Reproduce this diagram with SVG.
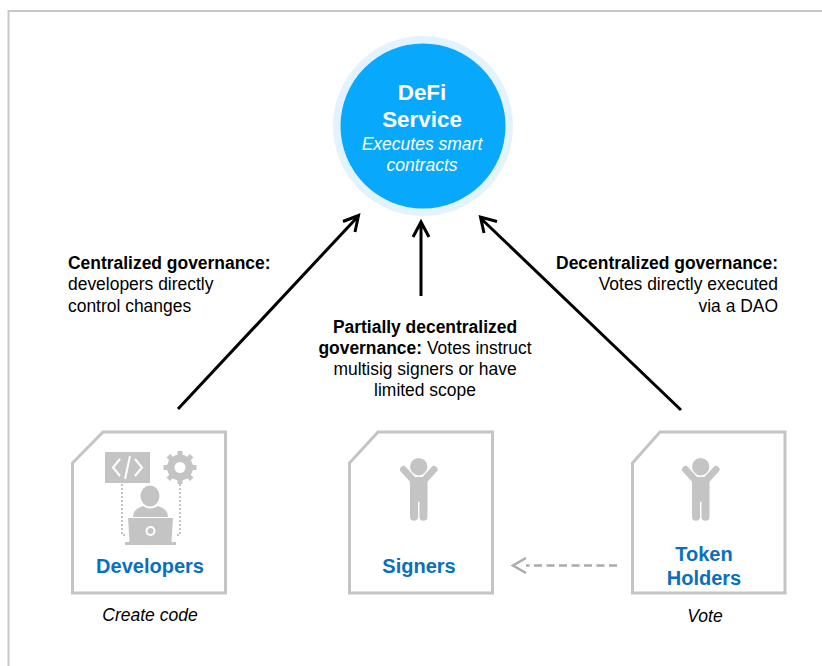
<svg xmlns="http://www.w3.org/2000/svg" width="822" height="666" viewBox="0 0 822 666">
<style>
text{font-family:"Liberation Sans",Arial,sans-serif;text-anchor:middle}
.card{fill:#fff;stroke:#c4c4c4;stroke-width:3}
.ic{fill:#c4c4c4}
.lbl{fill:#0a70bd;font-weight:700;font-size:20px}
.cap{fill:#000;font-style:italic;font-size:17.5px}
.t{fill:#000;font-size:17.450px}
.b{font-weight:700}
.con{fill:none;stroke:#000;stroke-width:3}
.dash{fill:none;stroke:#ababab;stroke-width:2.5}
.dot{fill:none;stroke:#c4c4c4;stroke-width:2;stroke-dasharray:2 2}
</style>
<defs>
<g id="person">
<circle class="ic" cx="700.700" cy="466.700" r="8.700"/>
<path d="M685.500 469.500L696 481M716 469.500L705.500 481" fill="none" stroke="#c4c4c4" stroke-width="7" stroke-linecap="round"/>
<path class="ic" d="M692 482L695 477H706.500L709.500 482V516.700A4 4 0 0 1 701.500 516.700V501.700H700V516.700A4 4 0 0 1 692 516.700Z"/>
</g>
</defs>
<rect width="822" height="666" fill="#fff"/>
<path d="M8.5 666V11H822" fill="none" stroke="#c8c8c8" stroke-width="2"/>
<g id="connectors">
<path class="con" d="M178 409L357.500 217M343 221.500L358.500 215.500L355 232"/>
<path class="con" d="M421 296V223M413 237L421 222L429 237"/>
<path class="con" d="M681 410L481.500 219M484 233L480.500 217L497 221.500"/>
<path class="dash" d="M617 565.500H526" stroke-dasharray="8 4.500"/>
<path class="dash" d="M526 558L513 565.500L526 573"/>
</g>
<g id="defi-service">
<circle cx="423" cy="126" r="90" fill="#e2f3fe"/>
<circle cx="423" cy="126" r="82.500" fill="#08a9fd"/>
<text x="422" y="100" fill="#fff" font-weight="700" font-size="22.400px">DeFi</text>
<text x="422" y="127" fill="#fff" font-weight="700" font-size="22.400px">Service</text>
<text x="422" y="150" fill="#fff" font-style="italic" font-size="17.500px">Executes smart</text>
<text x="422" y="171" fill="#fff" font-style="italic" font-size="17.500px">contracts</text>
</g>
<g id="label-centralized">
<text x="68" y="269" class="t b" style="text-anchor:start">Centralized governance:</text>
<text x="68" y="290" class="t" style="text-anchor:start">developers directly</text>
<text x="68" y="312" class="t" style="text-anchor:start">control changes</text>
</g>
<g id="label-partial">
<text x="425" y="333" class="t b">Partially decentralized</text>
<text x="425" y="354" class="t"><tspan class="b">governance:</tspan> Votes instruct</text>
<text x="425" y="375" class="t">multisig signers or have</text>
<text x="425" y="396" class="t">limited scope</text>
</g>
<g id="label-decentralized">
<text x="778" y="269" class="t b" style="text-anchor:end">Decentralized governance:</text>
<text x="778" y="290" class="t" style="text-anchor:end">Votes directly executed</text>
<text x="778" y="312" class="t" style="text-anchor:end">via a DAO</text>
</g>
<g id="developers">
<path class="card" d="M72.500 463L103 432H225.500V593H72.500Z"/>
<rect class="ic" x="105" y="452" width="45" height="31"/>
<path d="M120 459L113 467.500L120 476M135 459L142 467.500L135 476M130 456L125 479" fill="none" stroke="#fff" stroke-width="2"/>
<circle class="ic" cx="180" cy="467.500" r="13"/>
<path d="M180 451V484M163.500 467.500H196.500M168.300 455.800L191.700 479.200M191.700 455.800L168.300 479.200" stroke="#c4c4c4" stroke-width="5"/>
<circle cx="180" cy="467.500" r="5.500" fill="#fff"/>
<path class="dot" d="M122 484V535H127M180 484V535H175"/>
<ellipse class="ic" cx="150" cy="496" rx="9.500" ry="10.500"/>
<path class="ic" d="M133 517Q133 509 143 506Q150 511 158 506Q168 509 168 517Z"/>
<path d="M127 517H174L172 543H129Z" fill="#fff"/>
<path class="ic" d="M128 518H173L171.500 542H129.500Z"/>
<rect class="ic" x="125" y="542" width="51" height="3"/>
<circle cx="150.500" cy="531" r="4" fill="none" stroke="#fff" stroke-width="2"/>
<text class="lbl" x="150" y="573">Developers</text>
<text class="cap" x="150" y="621">Create code</text>
</g>
<g id="signers">
<path class="card" d="M349.500 463L378 432H492.500V593H349.500Z"/>
<use href="#person" x="-282"/>
<text class="lbl" x="419" y="573">Signers</text>
</g>
<g id="token-holders">
<path class="card" d="M632.500 463L660 432H785V593H632.500Z"/>
<use href="#person"/>
<text class="lbl" x="704" y="561">Token</text>
<text class="lbl" x="704" y="585">Holders</text>
<text class="cap" x="705" y="622">Vote</text>
</g>
</svg>
